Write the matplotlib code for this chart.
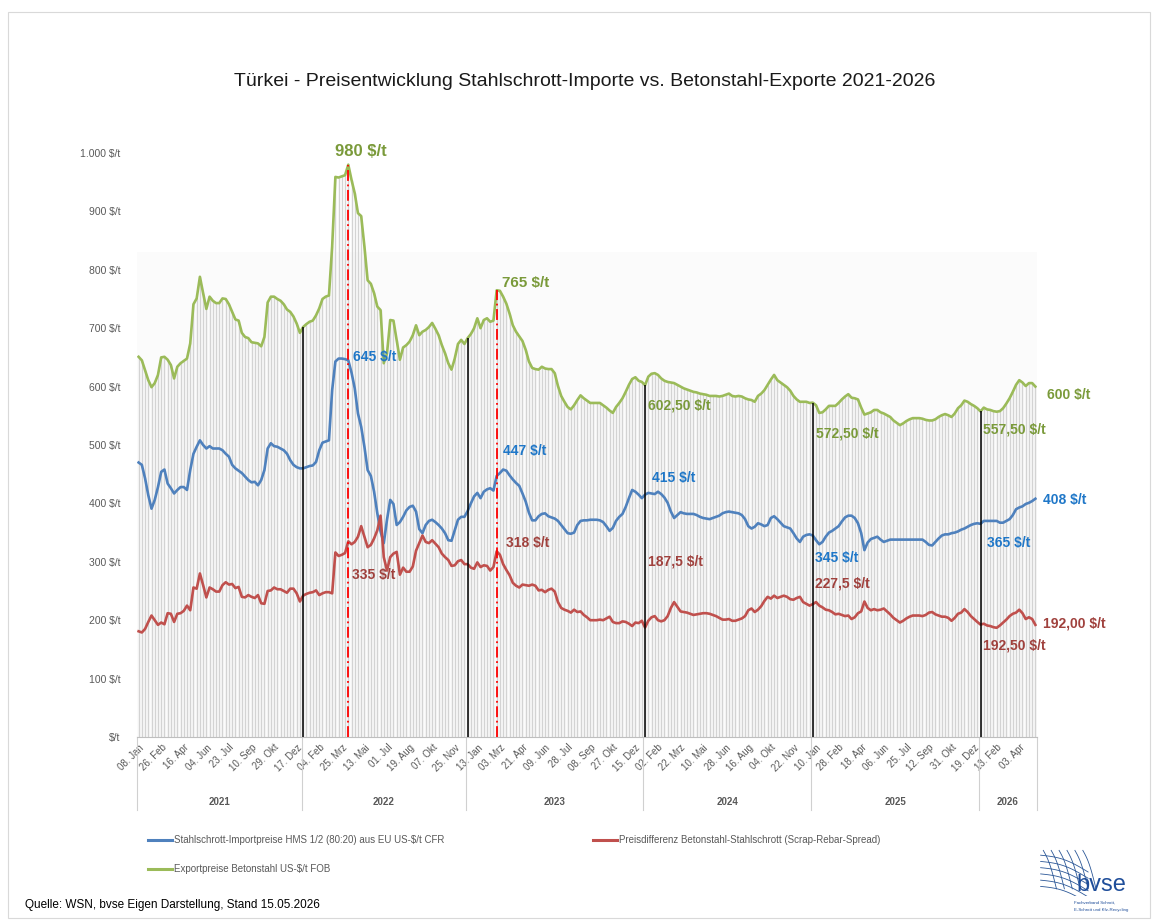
import numpy as np
import matplotlib.pyplot as plt
from matplotlib.lines import Line2D
from matplotlib.patches import Rectangle
import matplotlib.transforms as mtransforms

plt.rcParams['font.family'] = ['Liberation Sans', 'DejaVu Sans']

# Exportpreise Betonstahl US-$/t FOB (weekly)
rebar = [
    651, 645, 628, 611, 599, 606, 620, 650, 651, 646, 637, 614, 634, 640, 644, 648, 674, 741, 751, 788,
    760, 733, 754, 747, 743, 743, 751, 750, 741, 728, 715, 713, 692, 685, 683, 676, 675, 674, 669, 685,
    744, 754, 754, 750, 747, 741, 732, 728, 720, 708, 692, 702,
    707, 711, 713, 722, 734, 750, 754, 756, 840, 959, 958, 960, 962, 980, 954, 931, 897, 892,
    840, 782, 776, 760, 737, 731, 640, 657, 714, 713, 680, 646, 667, 671, 677, 688, 705, 688, 694, 697,
    702, 709, 699, 688, 671, 657, 640, 629, 648, 673, 680,
    673, 683, 690, 700, 717, 700, 714, 717, 711, 713, 765, 764, 754, 742, 725, 705, 694, 686, 678, 663,
    643, 632, 630, 629, 634, 631, 630, 630, 623, 601, 584, 574, 565, 561, 568, 577, 585, 580, 576, 572,
    572, 572, 572, 568, 564, 559, 555, 565, 572, 580, 591, 603, 613, 616, 610, 608,
    602.5, 617, 622, 623, 620, 614, 610, 608, 607, 606, 603, 600, 597, 595, 593, 591, 590, 588, 587, 586,
    584, 584, 584, 583, 584, 586, 588, 584, 583, 584, 583, 580, 578, 577, 574, 584, 588, 594, 603, 612,
    620, 611, 607, 603, 599, 593, 584, 578, 574, 574, 574, 572,
    572.5, 568, 555, 556, 561, 567, 567, 567, 572, 578, 583, 587, 581, 580, 578, 564, 552, 554, 556, 560,
    560, 556, 554, 551, 548, 542, 538, 534, 537, 541, 544, 546, 546, 546, 545, 543, 542, 542, 544, 548,
    551, 553, 551, 548, 554, 563, 568, 576, 574, 570, 567, 563,
    557.5, 564, 561, 560, 558, 557, 558, 563, 571, 580, 591, 603, 611, 607, 601, 606, 606, 600,
]

# Stahlschrott-Importpreise HMS 1/2 (80:20) aus EU US-$/t CFR (weekly)
scrap = [
    470, 466, 443, 414, 391, 406, 428, 454, 458, 434, 426, 417, 423, 428, 428, 423, 457, 485, 497, 508,
    500, 494, 498, 494, 494, 494, 491, 485, 480, 466, 460, 456, 452, 446, 440, 436, 437, 431, 440, 457,
    494, 503, 498, 497, 494, 491, 485, 474, 466, 462, 460, 460,
    462, 464, 465, 471, 491, 504, 506, 508, 594, 643, 648, 648, 647, 645, 624, 597, 554, 531,
    497, 457, 447, 420, 383, 352, 332, 372, 406, 399, 363, 368, 377, 388, 394, 396, 386, 356, 349, 363,
    370, 372, 368, 363, 357, 349, 337, 336, 354, 372, 377,
    377, 387, 400, 412, 418, 409, 420, 424, 426, 422, 447, 452, 458, 456, 448, 441, 435, 430, 417, 403,
    384, 371, 371, 378, 382, 383, 378, 376, 374, 370, 363, 356, 349, 348, 350, 363, 370, 371, 371, 372,
    372, 372, 371, 368, 361, 353, 358, 370, 377, 382, 394, 409, 423, 420, 415, 409,
    415, 418, 417, 416, 420, 416, 410, 401, 386, 375, 380, 385, 383, 382, 382, 382, 380, 377, 375, 374,
    373, 375, 377, 379, 383, 385, 386, 385, 384, 383, 380, 373, 361, 357, 360, 366, 364, 361, 363, 375,
    378, 373, 367, 361, 359, 357, 349, 340, 334, 343, 346, 347,
    345, 337, 330, 334, 343, 350, 353, 357, 361, 369, 376, 379, 379, 375, 366, 349, 320, 333, 339, 341,
    343, 338, 334, 336, 338, 338, 338, 338, 338, 338, 338, 338, 338, 338, 338, 334, 329, 328, 334, 340,
    345, 347, 347, 349, 350, 352, 355, 357, 360, 363, 365, 366,
    365, 370, 370, 370, 370, 370, 367, 367, 370, 373, 380, 390, 393, 395, 399, 401, 404, 408,
]

rebar = np.array(rebar, dtype=float)
scrap = np.array(scrap, dtype=float)
spread = rebar - scrap  # Preisdifferenz Betonstahl-Stahlschrott
N = len(rebar)
x = np.arange(N)

years = ['2021', '2022', '2023', '2024', '2025', '2026']
year_starts = [0, 51, 102, 157, 209, 261]
peak_idx = [65, 111]

week_labels = [
    '08. Jan', '26. Feb', '16. Apr', '04. Jun', '23. Jul', '10. Sep', '29. Okt', '17. Dez',
    '04. Feb', '25. Mrz', '13. Mai', '01. Jul', '19. Aug', '07. Okt', '25. Nov',
    '13. Jan', '03. Mrz', '21. Apr', '09. Jun', '28. Jul', '08. Sep', '27. Okt', '15. Dez',
    '02. Feb', '22. Mrz', '10. Mai', '28. Jun', '16. Aug', '04. Okt', '22. Nov',
    '10. Jan', '28. Feb', '18. Apr', '06. Jun', '25. Jul', '12. Sep', '31. Okt', '19. Dez',
    '13. Feb', '03. Apr',
]

yticks = [0, 100, 200, 300, 400, 500, 600, 700, 800, 900, 1000]
ytick_labels = ['$/t', '100 $/t', '200 $/t', '300 $/t', '400 $/t', '500 $/t',
                '600 $/t', '700 $/t', '800 $/t', '900 $/t', '1.000 $/t']

BLUE = '#4F81BD'
RED = '#C0504D'
GREEN = '#9BBB59'
BLUE_T = '#1F77C8'
RED_T = '#A0413D'
GREEN_T = '#7A9A3A'

# data labels: (x position, y position, text, colour, size)
labels = [
    (60.9, 1002, '980 $/t', GREEN_T, 12),
    (66.5, 651, '645 $/t', BLUE_T, 10),
    (66.2, 277, '335 $/t', RED_T, 10),
    (112.6, 777, '765 $/t', GREEN_T, 11),
    (113.0, 490, '447 $/t', BLUE_T, 10),
    (114.0, 332, '318 $/t', RED_T, 10),
    (158.0, 567, '602,50 $/t', GREEN_T, 10),
    (159.0, 443, '415 $/t', BLUE_T, 10),
    (158.0, 300, '187,5 $/t', RED_T, 10),
    (210.0, 520, '572,50 $/t', GREEN_T, 10),
    (209.7, 306, '345 $/t', BLUE_T, 10),
    (209.7, 262, '227,5 $/t', RED_T, 10),
    (261.7, 526, '557,50 $/t', GREEN_T, 10),
    (263.0, 332, '365 $/t', BLUE_T, 10),
    (261.7, 156, '192,50 $/t', RED_T, 10),
    (281.6, 586, '600 $/t', GREEN_T, 10),
    (280.4, 406, '408 $/t', BLUE_T, 10),
    (280.4, 195, '192,00 $/t', RED_T, 10),
]

W, H = 1155, 923
fig = plt.figure(figsize=(W / 100, H / 100), dpi=100)
ax = fig.add_axes([137 / W, 1 - 737 / H, 900 / W, 584 / H])

# faint plot-area tint
ax.axhspan(0, 830, color='#fbfbfb', zorder=0, lw=0)

# drop lines
top = np.maximum(np.maximum(rebar, scrap), spread)
ax.vlines(x, 0, top, color='#d3d3d3', linewidth=1.0, zorder=1)

ax.plot(x, scrap, color=BLUE, lw=1.9, zorder=3, solid_joinstyle='round')
ax.plot(x, spread, color=RED, lw=1.9, zorder=3, solid_joinstyle='round')
ax.plot(x, rebar, color=GREEN, lw=1.9, zorder=3, solid_joinstyle='round')

for s in year_starts[1:]:
    ax.vlines(s, 0, rebar[s], color='black', lw=1.1, zorder=4)
for p in peak_idx:
    ax.vlines(p, 0, rebar[p], color='#FF0000', lw=1.3, linestyles=(0, (6, 2, 1, 2)), zorder=4)

for lx, ly, txt, col, sz in labels:
    ax.text(lx, ly, txt, color=col, fontsize=sz, fontweight='bold',
            ha='left', va='center', clip_on=False, zorder=5)

ax.set_xlim(-0.5, N - 0.5)
ax.set_ylim(0, 1000)
for sp in ['top', 'right', 'left']:
    ax.spines[sp].set_visible(False)
ax.spines['bottom'].set_color('#bfbfbf')

ax.set_yticks(yticks, ytick_labels)
ax.tick_params(axis='y', length=0, pad=12, labelsize=7.5, labelcolor='#595959')
ax.set_xticks(np.arange(len(week_labels)) * 7, week_labels, rotation=45,
              ha='right', rotation_mode='anchor')
ax.tick_params(axis='x', length=0, pad=4, labelsize=7, labelcolor='#595959')

# year grouping row
trans = mtransforms.blended_transform_factory(ax.transData, ax.transAxes)
bounds = [s - 0.5 for s in year_starts] + [N - 0.5]
for b in bounds:
    ax.plot([b, b], [0, -0.125], transform=trans, color='#d0d0d0', lw=0.8, clip_on=False)
for k, yr in enumerate(years):
    c = (bounds[k] + bounds[k + 1]) / 2
    ax.text(c, -0.111, yr, transform=trans, ha='center', va='center',
            fontsize=7, fontweight='bold', color='#595959')

fig.text(585 / W, 1 - 82 / H,
         'Türkei - Preisentwicklung Stahlschrott-Importe vs. Betonstahl-Exporte 2021-2026',
         ha='center', va='center', fontsize=14, color='#1a1a1a')

# legend
leg = [
    (148, 840, BLUE, 'Stahlschrott-Importpreise HMS 1/2 (80:20) aus EU US-$/t CFR'),
    (593, 840, RED, 'Preisdifferenz Betonstahl-Stahlschrott (Scrap-Rebar-Spread)'),
    (148, 869, GREEN, 'Exportpreise Betonstahl US-$/t FOB'),
]
for lx, ly, col, txt in leg:
    fig.add_artist(Line2D([lx / W, (lx + 24) / W], [1 - ly / H, 1 - ly / H], color=col, lw=2.2))
    fig.text((lx + 26) / W, 1 - ly / H, txt, ha='left', va='center', fontsize=7, color='#595959')

fig.text(25 / W, 1 - 905 / H, 'Quelle: WSN, bvse Eigen Darstellung, Stand 15.05.2026',
         ha='left', va='center', fontsize=8.5, color='black')

# bvse logo
lax = fig.add_axes([1038 / W, 1 - 896 / H, 58 / W, 48 / H])
lax.axis('off')
t = np.linspace(0, 1, 30)
for k in range(6):
    lax.plot(0.1 + 0.15 * k + 0.25 * t, 0.95 - 0.8 * t + 0.1 * np.sin(np.pi * t), color='#2B5797', lw=0.6)
    lax.plot(0.05 + 0.9 * t, 0.85 - 0.13 * k - 0.35 * t + 0.08 * np.sin(np.pi * t), color='#2B5797', lw=0.6)
lax.set_xlim(0, 1.1)
lax.set_ylim(0, 1)
fig.text(1076 / W, 1 - 885 / H, 'bvse', ha='left', va='center', fontsize=17, color='#1F4E9A')
fig.text(1074 / W, 1 - 903 / H, 'Fachverband Schrott,', ha='left', va='center', fontsize=3.2, color='#1F4E9A')
fig.text(1074 / W, 1 - 910 / H, 'E-Schrott und Kfz-Recycling', ha='left', va='center', fontsize=3.2, color='#1F4E9A')

fig.add_artist(Rectangle((8 / W, 1 - 918 / H), 1142 / W, 906 / H, transform=fig.transFigure,
                         fill=False, edgecolor='#d9d9d9', lw=0.8))

fig.savefig('out.png', dpi=100)
